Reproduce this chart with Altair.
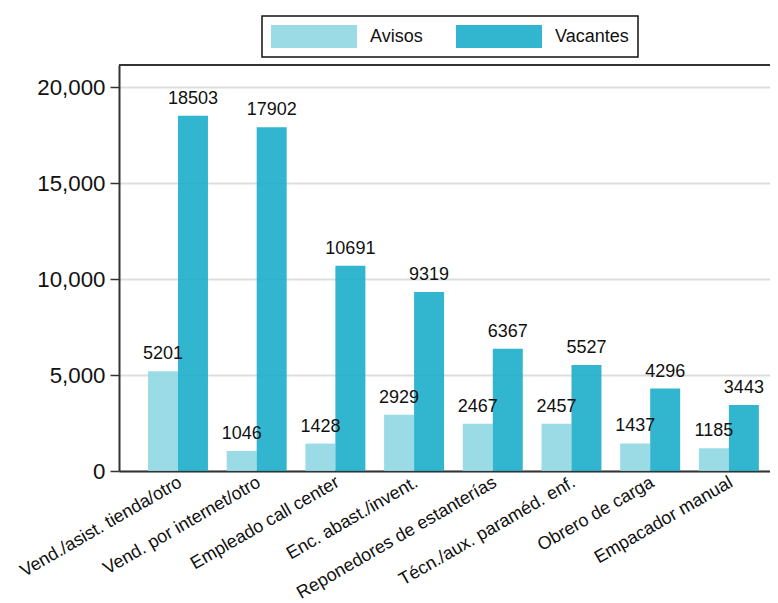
import altair as alt
import pandas as pd

categories = ["Vend./asist. tienda/otro", "Vend. por internet/otro", "Empleado call center",
              "Enc. abast./invent.", "Reponedores de estanterías", "Técn./aux. paraméd. enf.",
              "Obrero de carga", "Empacador manual"]
avisos = [5201, 1046, 1428, 2929, 2467, 2457, 1437, 1185]
vacantes = [18503, 17902, 10691, 9319, 6367, 5527, 4296, 3443]
series = ["Avisos", "Vacantes"]
colors = ["#8fd7e3", "#1cadc9"]
y_ticks = [0, 5000, 10000, 15000, 20000]

rows = []
for c, a, v in zip(categories, avisos, vacantes):
    rows.append({"cat": c, "serie": "Avisos", "valor": a})
    rows.append({"cat": c, "serie": "Vacantes", "valor": v})
df = pd.DataFrame(rows)

W, H = 651, 406
FONT = "Liberation Sans"

x = alt.X("cat:N", sort=categories, title=None,
          scale=alt.Scale(paddingInner=0.238, paddingOuter=0.255, align=0.7227),
          axis=alt.Axis(labelAngle=-30, labelFontSize=18, labelColor="#111111", ticks=False,
                        labelPadding=2, labelOffset=-2, domainColor="#333333", domainWidth=2,
                        labelLimit=400))
xo = alt.XOffset("serie:N", sort=series, scale=alt.Scale(paddingInner=0, paddingOuter=0))
y = alt.Y("valor:Q", title=None,
          scale=alt.Scale(domain=[0, 21150], nice=False),
          axis=alt.Axis(values=y_ticks, format=",d", labelFontSize=22.3, labelColor="#111111",
                        tickSize=9, tickColor="#333333", tickWidth=1.5, labelPadding=5,
                        domainColor="#333333", domainWidth=2,
                        grid=True, gridColor="#dddddd", gridWidth=2))

bars = alt.Chart(df).mark_bar(opacity=0.9).encode(
    x=x, xOffset=xo, y=y,
    color=alt.Color("serie:N", sort=series,
                    scale=alt.Scale(domain=series, range=colors),
                    legend=alt.Legend(title=None, orient="none", legendX=143, legendY=-49,
                                      direction="horizontal", labelFontSize=18, labelColor="#111111",
                                      symbolType="M-1,-1L6.478,-1L6.478,1L-1,1Z",
                                      symbolSize=529, symbolStrokeWidth=0, symbolOpacity=0.9,
                                      labelOffset=76, columnPadding=33, padding=9,
                                      strokeColor="#111111", fillColor="white")),
)

labels = alt.Chart(df).mark_text(fontSize=18, dy=-12, baseline="alphabetic", color="#111111", font=FONT).encode(
    x=alt.X("cat:N", sort=categories),
    xOffset=alt.XOffset("serie:N", sort=series),
    y=alt.Y("valor:Q"),
    text=alt.Text("valor:Q", format="d"),
)

top_line = alt.Chart(df).mark_rule(color="#333333", strokeWidth=2).encode(
    x=alt.value(0), x2=alt.value(W), y=alt.value(0)
)

chart = alt.layer(bars, labels, top_line).properties(
    width=W, height=H,
    autosize=alt.AutoSizeParams(type="none"),
    padding={"left": 111, "top": 57, "right": 0, "bottom": 140},
).configure_view(strokeWidth=0).configure(font=FONT).configure_legend(strokeWidth=1.5)

chart.save("out.html", embed_options={"renderer": "svg", "actions": False})
